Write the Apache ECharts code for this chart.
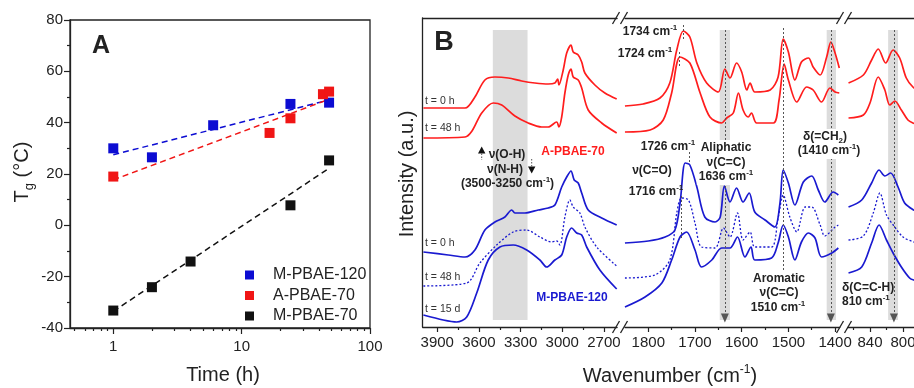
<!DOCTYPE html>
<html>
<head>
<meta charset="utf-8">
<script src="https://cdn.jsdelivr.net/npm/echarts@6.0.0/dist/echarts.min.js"></script>
<style>
  html, body { margin: 0; padding: 0; background: #fff; }
  #main { width: 914px; height: 388px; }
</style>
</head>
<body>
<div id="main"></div>
<script>
// ---- panel A: Tg vs time (log) ----
const timeBlue = [1, 2, 6, 24, 48];
const tgBlue = [30, 26.5, 39, 47.3, 47.8];
const timeRed = [1, 16.5, 24, 43, 48];
const tgRed = [19, 36, 41.7, 51.1, 52.1];
const timeBlack = [1, 2, 4, 24, 48];
const tgBlack = [-33.2, -24.1, -14.1, 7.8, 25.3];
// dashed fit lines (end points)
const fitTime = [1, 46];
const fitBlue = [27.5, 48.6];
const fitRed = [17.7, 48.8];
const fitBlack = [-33.5, 21.6];
const timeMajor = [1, 10, 100];
const timeMinor = [0.5, 0.6, 0.7, 0.8, 0.9, 2, 3, 4, 5, 6, 7, 8, 9, 20, 30, 40, 50, 60, 70, 80, 90];

// ---- panel B: FTIR spectra, [wavenumber, intensity (a.u.)] ----
const hiRedT0 = [[4000,219],[3700,219],[3629,230],[3557,247],[3485,250],[3389,249],[3292,246],[3197,244],[3101,243],[3053,244],[3033,248],[3024,242],[2993,257],[2968,274],[2937,282],[2921,275],[2885,272],[2860,265],[2837,254],[2765,242],[2693,234],[2608,228]];
const hiRedT48 = [[4000,189],[3700,190],[3650,196],[3580,214],[3497,224],[3436,222],[3341,211],[3245,204],[3148,200],[3101,200],[3040,205],[3024,200],[3004,210],[2981,234],[2957,252],[2937,258],[2921,250],[2885,247],[2860,239],[2813,217],[2716,204],[2608,194]];
const hiBlueT0 = [[4000,75],[3821,72],[3700,70],[3629,77],[3557,97],[3485,105],[3413,110],[3364,117],[3341,114],[3269,114],[3173,117],[3101,119],[3053,122],[3004,140],[2968,150],[2937,156],[2914,147],[2885,144],[2860,134],[2813,117],[2716,109],[2608,102]];
const hiBlueT48 = [[4000,41],[3688,44],[3593,64],[3472,82],[3353,95],[3256,97],[3161,90],[3076,85],[3040,86],[3017,82],[2981,110],[2945,127],[2921,120],[2873,114],[2837,100],[2752,80],[2608,61]];
const hiBlueT15 = [[4000,12],[3857,7],[3760,5],[3688,10],[3616,34],[3533,67],[3449,80],[3353,82],[3256,77],[3161,67],[3112,60],[3053,67],[3004,72],[2968,90],[2932,99],[2896,94],[2860,92],[2824,80],[2729,57],[2608,38]];

const midRedT0 = [[1850,221],[1811,223],[1775,229],[1754,244],[1739,277],[1725,296],[1711,290],[1696,264],[1675,244],[1650,235],[1636,258],[1625,249],[1611,264],[1600,255],[1589,237],[1582,244],[1572,235],[1539,237],[1522,250],[1511,288],[1500,275],[1486,247],[1472,265],[1457,269],[1447,260],[1432,252],[1418,270],[1409,285],[1400,274],[1391,259]];
const midRedT48 = [[1850,195],[1796,197],[1768,207],[1750,234],[1732,270],[1711,264],[1689,234],[1668,210],[1643,204],[1632,209],[1618,214],[1607,234],[1597,217],[1586,210],[1579,214],[1568,204],[1532,204],[1520,227],[1509,263],[1500,247],[1482,225],[1461,240],[1447,237],[1429,225],[1411,239],[1400,235],[1391,234]];
const midBlueT0 = [[1850,84],[1800,86],[1764,90],[1743,97],[1732,124],[1721,164],[1711,162],[1696,140],[1679,110],[1657,105],[1646,110],[1637,141],[1625,125],[1611,139],[1597,125],[1584,134],[1572,115],[1550,107],[1529,100],[1518,124],[1511,157],[1500,144],[1486,122],[1468,145],[1450,151],[1436,137],[1422,125],[1404,135],[1393,132]];
const midBlueT48 = [[1850,49],[1786,52],[1754,67],[1739,114],[1729,129],[1714,127],[1700,104],[1686,80],[1657,79],[1639,99],[1625,90],[1609,114],[1597,87],[1582,95],[1572,80],[1536,80],[1522,109],[1511,132],[1497,110],[1482,95],[1464,120],[1450,120],[1432,102],[1422,91],[1400,100],[1393,102]];
const midBlueT15 = [[1850,20],[1807,30],[1771,44],[1750,67],[1732,90],[1718,95],[1700,77],[1686,60],[1664,67],[1643,79],[1625,79],[1609,90],[1593,70],[1580,80],[1572,67],[1536,69],[1522,84],[1511,102],[1500,90],[1486,67],[1472,85],[1457,94],[1443,89],[1429,70],[1407,74],[1393,79]];

const lowRedT0 = [[866,244],[848,252],[838,267],[830,278],[821,264],[812,277],[804,269],[796,249],[788,240],[780,236]];
const lowRedT48 = [[866,209],[848,212],[840,224],[830,250],[822,237],[816,222],[810,226],[802,217],[794,207],[788,204],[780,202]];
const lowBlueT0 = [[866,120],[850,127],[838,144],[829,157],[822,151],[815,154],[806,140],[798,124],[787,117],[780,115]];
const lowBlueT48 = [[866,87],[848,91],[836,114],[828,134],[820,112],[810,100],[800,90],[787,85],[780,84]];
const lowBlueT15 = [[866,54],[850,60],[838,84],[829,102],[820,87],[812,74],[802,60],[792,49],[787,47],[780,46]];

// tick values of the broken axis
const hiMajor = [3900, 3600, 3300, 3000, 2700];
const hiMinor = [3750, 3450, 3150, 2850];
const midMajor = [1800, 1700, 1600, 1500, 1400];
const midMinor = [1750, 1650, 1550, 1450];
const lowMajor = [840, 800];
const lowMinor = [860, 820];

const FONT = '"Liberation Sans", Arial, sans-serif';
const AX = '#222';
const BLUE = '#0c0cd2';
const RED = '#f01515';
const SBLUE = '#1a1ad0';
const SRED = '#ff1d1d';

const pairs = (xs, ys) => xs.map((x, i) => [x, ys[i]]);

const chart = echarts.init(document.getElementById('main'), null, { renderer: 'canvas' });

// three axes per spectrum segment: labelled major ticks, short minor ticks, top frame line
function segAxes(grid, min, max, major, minor) {
  const base = { type: 'value', gridIndex: grid, min: min, max: max, inverse: true, splitLine: { show: false } };
  return [
    Object.assign({}, base, {
      position: 'bottom',
      axisLine: { onZero: false, lineStyle: { color: AX, width: 1.3 } },
      axisTick: { customValues: major, length: 5, lineStyle: { color: AX, width: 1.2 } },
      axisLabel: { customValues: major, fontSize: 15, fontFamily: FONT, color: AX, margin: 8, formatter: v => String(v) }
    }),
    Object.assign({}, base, {
      position: 'bottom',
      axisLine: { show: false, onZero: false },
      axisTick: { customValues: minor, length: 3, lineStyle: { color: AX, width: 1.2 } },
      axisLabel: { show: false }
    }),
    Object.assign({}, base, {
      position: 'top',
      axisLine: { onZero: false, lineStyle: { color: AX, width: 1.3 } },
      axisTick: { show: false },
      axisLabel: { show: false }
    })
  ];
}

function curve(data, xi, yi, color, dotted) {
  return {
    type: 'line', xAxisIndex: xi, yAxisIndex: yi, data: data,
    showSymbol: false, smooth: 0.3, silent: true, z: 3,
    lineStyle: { color: color, width: dotted ? 1.3 : 1.7, type: dotted ? [2, 2] : 'solid' }
  };
}

const guideStyle = { color: '#555', width: 1, type: [2, 2] };
function vline(x, y1, y2, arrow) {
  return [
    { coord: [x, y1], symbol: 'none' },
    { coord: [x, y2], symbol: arrow ? 'triangle' : 'none', symbolSize: [8, 9] }
  ];
}
function band(a, b) {
  return [{ xAxis: a, yAxis: 7 }, { xAxis: b, yAxis: 297 }];
}
function guides(xi, yi, bands, lines, anyX) {
  return {
    type: 'line', xAxisIndex: xi, yAxisIndex: yi, data: [[anyX, -50]],
    showSymbol: false, silent: true, z: 1,
    markArea: { silent: true, itemStyle: { color: '#dcdcdc' }, data: bands },
    markLine: { silent: true, symbol: ['none', 'none'], label: { show: false }, lineStyle: guideStyle, data: lines }
  };
}

const RICH = {
  s: { fontSize: 8, fontWeight: 'bold', fontFamily: FONT, verticalAlign: 'top', lineHeight: 8 },
  u: { fontSize: 8, fontWeight: 'bold', fontFamily: FONT, verticalAlign: 'bottom', lineHeight: 8 }
};
function note(x, y, text, o) {
  o = o || {};
  return {
    type: 'text', x: x, y: y, z: 50, silent: true,
    style: {
      text: text, rich: RICH, fill: o.color || AX,
      font: (o.weight || 'bold') + ' ' + (o.size || 12) + 'px ' + FONT,
      lineHeight: 16, align: o.align || 'center', verticalAlign: 'middle',
      backgroundColor: o.bg || null, padding: o.bg ? [0, 2] : 0
    }
  };
}
function slash(x, y) {
  return { type: 'line', z: 50, silent: true, shape: { x1: x - 3.5, y1: y + 6, x2: x + 3.5, y2: y - 6 }, style: { stroke: AX, lineWidth: 1.3 } };
}
function tri(pts) {
  return { type: 'polygon', z: 50, silent: true, shape: { points: pts }, style: { fill: '#111' } };
}
function stem(x, y1, y2) {
  return { type: 'line', z: 50, silent: true, shape: { x1: x, y1: y1, x2: x, y2: y2 }, style: { stroke: '#555', lineWidth: 1, lineDash: [1.5, 1.5] } };
}

const xAxes = [
  {
    type: 'log', logBase: 10, gridIndex: 0, min: 0.46, max: 100, position: 'bottom',
    axisLine: { onZero: false, lineStyle: { color: AX, width: 1.3 } },
    axisTick: { customValues: timeMajor, length: 6, lineStyle: { color: AX, width: 1.2 } },
    axisLabel: { customValues: timeMajor, fontSize: 15, fontFamily: FONT, color: AX, margin: 11, formatter: v => String(v) },
    splitLine: { show: false }
  },
  {
    type: 'log', logBase: 10, gridIndex: 0, min: 0.46, max: 100, position: 'bottom',
    axisLine: { show: false, onZero: false },
    axisTick: { customValues: timeMinor, length: 3, lineStyle: { color: AX, width: 1.2 } },
    axisLabel: { show: false },
    splitLine: { show: false }
  }
].concat(
  segAxes(1, 2605, 4005, hiMajor, hiMinor),   // x indices 2,3,4
  segAxes(2, 1390, 1850, midMajor, midMinor), // 5,6,7
  segAxes(3, 780, 867, lowMajor, lowMinor)    // 8,9,10
);

const yAxes = [
  {
    type: 'value', gridIndex: 0, min: -40, max: 80, interval: 20,
    axisLine: { show: true, onZero: false, lineStyle: { color: AX, width: 1.3 } },
    axisTick: { show: true, length: 6, lineStyle: { color: AX, width: 1.2 } },
    minorTick: { show: true, splitNumber: 2, length: 3, lineStyle: { color: AX, width: 1.2 } },
    axisLabel: { fontSize: 15, fontFamily: FONT, color: AX, margin: 7 },
    splitLine: { show: false }
  },
  {
    type: 'value', gridIndex: 1, min: 0, max: 309,
    axisLine: { show: true, onZero: false, lineStyle: { color: AX, width: 1.3 } },
    axisTick: { show: false }, axisLabel: { show: false }, splitLine: { show: false }
  },
  { type: 'value', gridIndex: 2, min: 0, max: 309, show: false },
  { type: 'value', gridIndex: 3, min: 0, max: 309, show: false }
];

const option = {
  backgroundColor: '#ffffff',
  animation: false,
  grid: [
    { left: 70, top: 20, width: 300, height: 308, show: true, borderColor: AX, borderWidth: 1.3, outerBoundsMode: 'none', containLabel: false },
    { left: 422.7, top: 18, width: 194.4, height: 309, outerBoundsMode: 'none', containLabel: false },
    { left: 624.95, top: 18, width: 214.8, height: 309, outerBoundsMode: 'none', containLabel: false },
    { left: 847.7, top: 18, width: 71.8, height: 309, outerBoundsMode: 'none', containLabel: false }
  ],
  xAxis: xAxes,
  yAxis: yAxes,
  legend: {
    data: ['M-PBAE-120', 'A-PBAE-70', 'M-PBAE-70'],
    orient: 'vertical', left: 240, top: 262,
    itemWidth: 9, itemHeight: 9, itemGap: 4.5, icon: 'rect',
    itemStyle: { opacity: 1 },
    textStyle: { fontSize: 16, fontFamily: FONT, color: AX, lineHeight: 16, padding: [0, 0, 0, 14] }
  },
  series: [
    { name: 'fit-120', type: 'line', xAxisIndex: 0, yAxisIndex: 0, data: pairs(fitTime, fitBlue), showSymbol: false, silent: true, z: 2, lineStyle: { color: BLUE, width: 1.5, type: [6, 4] } },
    { name: 'fit-a70', type: 'line', xAxisIndex: 0, yAxisIndex: 0, data: pairs(fitTime, fitRed), showSymbol: false, silent: true, z: 2, lineStyle: { color: RED, width: 1.5, type: [6, 4] } },
    { name: 'fit-m70', type: 'line', xAxisIndex: 0, yAxisIndex: 0, data: pairs(fitTime, fitBlack), showSymbol: false, silent: true, z: 2, lineStyle: { color: '#111', width: 1.5, type: [6, 4] } },
    { name: 'M-PBAE-120', type: 'scatter', xAxisIndex: 0, yAxisIndex: 0, symbol: 'rect', symbolSize: 10, itemStyle: { color: BLUE, opacity: 1 }, data: pairs(timeBlue, tgBlue), z: 4 },
    { name: 'A-PBAE-70', type: 'scatter', xAxisIndex: 0, yAxisIndex: 0, symbol: 'rect', symbolSize: 10, itemStyle: { color: RED, opacity: 1 }, data: pairs(timeRed, tgRed), z: 4 },
    { name: 'M-PBAE-70', type: 'scatter', xAxisIndex: 0, yAxisIndex: 0, symbol: 'rect', symbolSize: 10, itemStyle: { color: '#111', opacity: 1 }, data: pairs(timeBlack, tgBlack), z: 4 },

    guides(2, 1, [band(3500, 3250)], [], 3000),
    guides(5, 2, [band(1647, 1625), band(1418, 1398)], [
      vline(1636, 297, 9, true),
      vline(1511, 299, 57, false),
      vline(1409, 297, 9, true),
      vline(1725, 302, 287, false),
      vline(1734, 275, 260, false),
      vline(1712, 175, 165, false),
      vline(1729, 131, 87, false)
    ], 1600),
    guides(8, 3, [band(818, 806)], [vline(811, 297, 9, true)], 820),

    curve(hiRedT0, 2, 1, SRED), curve(hiRedT48, 2, 1, SRED),
    curve(hiBlueT0, 2, 1, SBLUE), curve(hiBlueT48, 2, 1, SBLUE, true), curve(hiBlueT15, 2, 1, SBLUE),
    curve(midRedT0, 5, 2, SRED), curve(midRedT48, 5, 2, SRED),
    curve(midBlueT0, 5, 2, SBLUE), curve(midBlueT48, 5, 2, SBLUE, true), curve(midBlueT15, 5, 2, SBLUE),
    curve(lowRedT0, 8, 3, SRED), curve(lowRedT48, 8, 3, SRED),
    curve(lowBlueT0, 8, 3, SBLUE), curve(lowBlueT48, 8, 3, SBLUE, true), curve(lowBlueT15, 8, 3, SBLUE)
  ],
  graphic: {
    elements: [
      // panel A texts
      note(101, 46, 'A', { size: 25 }),
      { type: 'text', x: 22, y: 172, rotation: Math.PI / 2, z: 50, silent: true,
        style: { text: '{t|T}{g|g}{t| (°C)}', align: 'center', verticalAlign: 'middle', fill: AX,
          rich: { t: { fontSize: 20, fontFamily: FONT, lineHeight: 28 }, g: { fontSize: 13, fontFamily: FONT, lineHeight: 13, verticalAlign: 'bottom' } } } },
      note(223, 375, 'Time (h)', { size: 20, weight: 'normal' }),

      // panel B axis titles
      note(444, 43, 'B', { size: 27 }),
      { type: 'text', x: 407, y: 174, rotation: Math.PI / 2, z: 50, silent: true,
        style: { text: 'Intensity (a.u.)', font: '20px ' + FONT, align: 'center', verticalAlign: 'middle', fill: AX } },
      { type: 'text', x: 670, y: 376, z: 50, silent: true,
        style: { text: '{n|Wavenumber (cm}{p|-1}{n|)}', align: 'center', verticalAlign: 'middle', fill: AX,
          rich: { n: { fontSize: 20, fontFamily: FONT, lineHeight: 24 }, p: { fontSize: 12, fontFamily: FONT, lineHeight: 12, verticalAlign: 'top' } } } },

      // break marks
      slash(616, 18), slash(624, 18), slash(616, 327), slash(624, 327),
      slash(840, 18), slash(848, 18), slash(840, 327), slash(848, 327),

      // time labels
      note(425, 101, 't = 0 h', { size: 10.5, weight: 'normal', align: 'left', color: '#333' }),
      note(425, 128, 't = 48 h', { size: 10.5, weight: 'normal', align: 'left', color: '#333' }),
      note(425, 243, 't = 0 h', { size: 10.5, weight: 'normal', align: 'left', color: '#333' }),
      note(425, 277, 't = 48 h', { size: 10.5, weight: 'normal', align: 'left', color: '#333' }),
      note(425, 309, 't = 15 d', { size: 10.5, weight: 'normal', align: 'left', color: '#333' }),
      note(573, 152, 'A-PBAE-70', { color: SRED }),
      note(572, 298, 'M-PBAE-120', { color: SBLUE }),

      // O-H / N-H annotation
      tri([[481.7, 146.5], [478, 153.5], [485.4, 153.5]]), stem(481.7, 153.5, 160),
      note(507, 155, 'ν(O-H)'),
      note(505, 170, 'ν(N-H)'),
      tri([[531.7, 173.5], [528, 166.5], [535.4, 166.5]]), stem(531.7, 159, 166.5),
      note(507.5, 184, '(3500-3250 cm{s|-1})'),

      // carbonyl / C=C annotations
      note(650, 32, '1734 cm{s|-1}'),
      note(645, 54, '1724 cm{s|-1}'),
      note(668, 147, '1726 cm{s|-1}'),
      note(652, 171, 'ν(C=O)'),
      note(656, 192, '1716 cm{s|-1}'),
      note(726, 148, 'Aliphatic', { bg: '#fff' }),
      note(726, 163, 'ν(C=C)', { bg: '#fff' }),
      note(726, 177, '1636 cm{s|-1}', { bg: '#fff' }),
      note(825, 137, 'δ(=CH{u|2})', { bg: '#fff' }),
      note(829, 151, '(1410 cm{s|-1})', { bg: '#fff' }),
      note(779, 279, 'Aromatic'),
      note(779, 293, 'ν(C=C)'),
      note(778, 308, '1510 cm{s|-1}'),
      note(842, 288, 'δ(C=C-H)', { align: 'left' }),
      note(842, 302, '810 cm{s|-1}', { align: 'left' })
    ]
  }
};

chart.setOption(option);
</script>
</body>
</html>
